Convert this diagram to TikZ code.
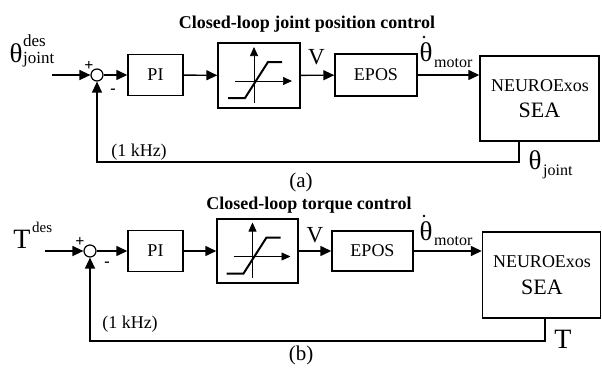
\documentclass[tikz,border=0pt]{standalone}
\usepackage{fontspec}
\setmainfont{Liberation Serif}
\usetikzlibrary{arrows.meta}
\tikzset{
  blk/.style={draw, line width=1.4pt, inner sep=0pt, font=\fontsize{18}{18}\selectfont},
  sig/.style={line width=1.4pt, -{Triangle[length=11pt,width=10pt]}},
  sumpt/.style={draw, circle, line width=1.2pt, minimum size=12pt, inner sep=0pt},
  ttl/.style={font=\bfseries\fontsize{18}{18}\selectfont, inner sep=0pt},
  big/.style={font=\fontsize{27}{27}\selectfont, inner sep=0pt},
  idx/.style={font=\fontsize{16}{16}\selectfont, inner sep=0pt},
  lbl/.style={font=\fontsize{18}{18}\selectfont, inner sep=0pt},
  subcap/.style={font=\fontsize{21}{21}\selectfont, inner sep=0pt},
  seatxt/.style={font=\fontsize{18}{18}\selectfont, inner sep=0pt},
  seabig/.style={font=\fontsize{22}{22}\selectfont, inner sep=0pt},
  pm/.style={font=\bfseries\fontsize{16}{16}\selectfont, inner sep=0pt},
  dotmark/.style={fill, radius=1.3pt},
  satgraph/.pic={
    \draw[line width=0.7pt, -{Triangle[length=9pt,width=8pt]}] (-5,27) -- (-5,-28.5);
    \draw[line width=0.7pt, -{Triangle[length=9pt,width=8pt]}] (-24,5.5) -- (33,5.5);
    \draw[line width=2pt] (-31,22.5) -- (-14,22.5) -- (9,-13.5) -- (23,-13.5);
  }
}
\begin{document}
\begin{tikzpicture}[x=1pt,y=-1pt]
\useasboundingbox (0,0) rectangle (602,367);

% ---------- (a) joint position loop ----------
\node[ttl] (ttla) at (307,24) {Closed-loop joint position control};
\node[big] (thin) at (16,53) {θ};
\node[idx, font=\fontsize{17}{17}\selectfont, anchor=base west] (thinsup) at (23,46) {des};
\node[idx, font=\fontsize{17}{17}\selectfont, anchor=base west] (thinsub) at (23,63) {joint};
\coordinate (in1) at (52,75);
\node[sumpt] (s1) at (97,75) {};
\node[pm] (p1) at (89,66) {+};
\node[pm] (m1) at (113,91) {-};
\node[blk, minimum width=55pt, minimum height=41pt] (pi1) at (155.5,75) {PI};
\node[blk, minimum width=82pt, minimum height=65pt] (sat1) at (259,75.5) {};
\pic at (sat1.center) {satgraph};
\node[font=\fontsize{23}{23}\selectfont, inner sep=0pt] (v1) at (316.5,57.5) {V};
\node[blk, minimum width=82pt, minimum height=42pt] (epos1) at (376,75) {EPOS};
\node[big] (thm1) at (426,52) {θ};
\fill[dotmark] (424,37) circle;
\node[idx, anchor=base west] (thm1s) at (434,67) {motor};
\node[blk, minimum width=119pt, minimum height=85pt] (sea1) at (539.5,98.5) {};
\node[seatxt] (sea1a) at (540,86) {NEUROExos};
\node[seabig] (sea1b) at (539.5,110) {SEA};
\coordinate (fb1) at (519,141);
\node[lbl] (khz1) at (139,152) {(1 kHz)};
\node[big] (thj) at (535,160) {θ};
\node[idx, anchor=base west] (thjs) at (543,175) {joint};
\node[subcap] (capa) at (301,182) {(a)};

\draw[sig] (in1) -- (s1);
\draw[sig] (s1) -- (pi1);
\draw[sig] (pi1) -- (sat1);
\draw[sig] (sat1) -- (epos1);
\draw[sig] (epos1.east) -- (epos1.east -| sea1.west);
\draw[sig] (fb1) -- ++(0,21) -| (s1.south);

% ---------- (b) torque loop ----------
\node[ttl] (ttlb) at (309,205) {Closed-loop torque control};
\node[font=\fontsize{28}{28}\selectfont, inner sep=0pt] (tin) at (22,239) {T};
\node[idx, font=\fontsize{15}{15}\selectfont, anchor=base west] (tinsup) at (32,232) {des};
\coordinate (in2) at (45,251);
\node[sumpt] (s2) at (90,251) {};
\node[pm] (p2) at (80,242) {+};
\node[pm] (m2) at (107,264) {-};
\node[blk, minimum width=55pt, minimum height=41pt] (pi2) at (155.5,251) {PI};
\node[blk, minimum width=81pt, minimum height=64pt] (sat2) at (257.5,251) {};
\pic at (sat2.center) {satgraph};
\node[font=\fontsize{23}{23}\selectfont, inner sep=0pt] (v2) at (315,235) {V};
\node[blk, minimum width=81pt, minimum height=40pt] (epos2) at (372.5,251) {EPOS};
\node[big] (thm2) at (426,231) {θ};
\fill[dotmark] (424,216) circle;
\node[idx, anchor=base west] (thm2s) at (434,245) {motor};
\node[blk, minimum width=118pt, minimum height=86pt] (sea2) at (541.5,275) {};
\node[seatxt] (sea2a) at (542,262) {NEUROExos};
\node[seabig] (sea2b) at (542,287) {SEA};
\coordinate (fb2) at (545,318);
\node[lbl] (khz2) at (130,324) {(1 kHz)};
\node[font=\fontsize{28}{28}\selectfont, inner sep=0pt] (tout) at (563,339) {T};
\node[subcap] (capb) at (301,355) {(b)};

\draw[sig] (in2) -- (s2);
\draw[sig] (s2) -- (pi2);
\draw[sig] (pi2) -- (sat2);
\draw[sig] (sat2) -- (epos2);
\draw[sig] (epos2.east) -- (epos2.east -| sea2.west);
\draw[sig] (fb2) -- ++(0,23) -| (s2.south);
\end{tikzpicture}
\end{document}
